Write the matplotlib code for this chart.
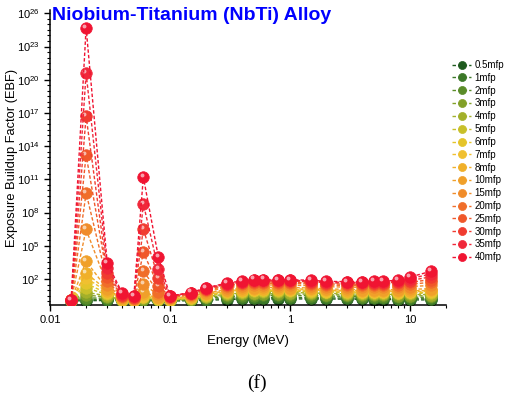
import numpy as np
import matplotlib
matplotlib.use('Agg')
import matplotlib.pyplot as plt
from matplotlib import ticker, transforms

plt.rcParams.update({'font.family': 'Liberation Sans',
                     'mathtext.fontset': 'custom',
                     'mathtext.rm': 'Liberation Sans',
                     'mathtext.it': 'Liberation Sans:italic',
                     'mathtext.bf': 'Liberation Sans:bold'})

# photon energies (MeV)
energy = [0.015, 0.02, 0.03, 0.04, 0.05, 0.06, 0.08, 0.1, 0.15, 0.2, 0.3, 0.4, 0.5,
          0.6, 0.8, 1, 1.5, 2, 3, 4, 5, 6, 8, 10, 15]

mfp_labels = ['0.5mfp', '1mfp', '2mfp', '3mfp', '4mfp', '5mfp', '6mfp', '7mfp', '8mfp',
              '10mfp', '15mfp', '20mfp', '25mfp', '30mfp', '35mfp', '40mfp']

# exposure buildup factors, one list per penetration depth
ebf_05 = [1.05, 1.1, 1.15, 1.05, 1.02, 1.1, 1.08, 1.05, 1.1, 1.2, 1.4, 1.5, 1.6, 1.6, 1.6, 1.6, 1.6, 1.6, 1.5, 1.5, 1.4, 1.4, 1.4, 1.3, 1.3]
ebf_1 = [1.08, 1.4, 1.4, 1.1, 1.05, 1.2, 1.15, 1.1, 1.2, 1.4, 1.8, 2.0, 2.1, 2.1, 2.2, 2.1, 2.1, 2.0, 1.9, 1.9, 1.8, 1.8, 1.7, 1.7, 1.6]
ebf_2 = [1.1, 2.0, 1.8, 1.15, 1.1, 1.4, 1.25, 1.15, 1.35, 1.8, 2.6, 3.0, 3.2, 3.3, 3.3, 3.2, 3.1, 2.9, 2.7, 2.6, 2.5, 2.5, 2.4, 2.3, 2.2]
ebf_3 = [1.12, 3.5, 2.4, 1.2, 1.15, 1.6, 1.35, 1.2, 1.5, 2.2, 3.4, 4.1, 4.5, 4.6, 4.6, 4.5, 4.3, 3.9, 3.6, 3.4, 3.3, 3.3, 3.2, 3.1, 3.0]
ebf_4 = [1.14, 6.3, 3.0, 1.3, 1.2, 1.9, 1.45, 1.3, 1.65, 2.6, 4.3, 5.3, 6.0, 6.1, 6.1, 6.0, 5.6, 5.0, 4.6, 4.3, 4.2, 4.1, 4.0, 4.0, 3.9]
ebf_5 = [1.15, 16, 4.0, 1.35, 1.25, 2.2, 1.55, 1.35, 1.8, 3.0, 5.3, 6.6, 7.5, 7.7, 7.7, 7.5, 7.0, 6.2, 5.6, 5.3, 5.2, 5.1, 5.0, 5.0, 5.0]
ebf_6 = [1.16, 40, 5.0, 1.4, 1.3, 2.6, 1.7, 1.4, 2.0, 3.5, 6.3, 8.0, 9.3, 9.5, 9.5, 9.2, 8.5, 7.4, 6.7, 6.3, 6.2, 6.1, 6.0, 6.1, 6.2]
ebf_7 = [1.17, 126, 7.0, 1.5, 1.35, 3.2, 1.9, 1.5, 2.2, 4.0, 7.5, 9.5, 11, 11.5, 11.5, 11, 10, 8.7, 7.9, 7.4, 7.3, 7.2, 7.2, 7.3, 7.6]
ebf_8 = [1.18, 355, 9.0, 1.6, 1.4, 4.0, 2.1, 1.6, 2.4, 4.5, 8.7, 11, 13, 13.5, 13.5, 13, 12, 10, 9.0, 8.5, 8.4, 8.4, 8.4, 8.6, 9.2]
ebf_10 = [1.19, 4000, 12.6, 1.8, 1.5, 6.3, 2.5, 1.8, 2.8, 5.5, 11, 14, 17, 17.5, 17.5, 17, 15.5, 13, 11.5, 11, 11, 11, 11, 12, 13]
ebf_15 = [1.2, 3e6, 28, 2.2, 1.7, 32, 4.0, 2.1, 3.5, 7.5, 17, 23, 28, 29, 29, 28, 25, 20.5, 18.5, 18, 18, 18, 19, 21, 26]
ebf_20 = [1.21, 6e9, 63, 2.7, 1.9, 500, 7.0, 2.4, 4.2, 9.5, 23, 32, 40, 41, 41, 40, 36, 29, 26, 26, 26, 27, 29, 34, 50]
ebf_25 = [1.22, 1.6e13, 160, 3.2, 2.1, 2.5e4, 25, 2.6, 4.8, 11.5, 29, 41, 52, 53, 53, 51, 46, 37, 34, 34, 34, 35, 40, 50, 90]
ebf_30 = [1.23, 5e16, 316, 3.8, 2.4, 3.2e6, 126, 2.8, 5.3, 13, 34, 50, 64, 65, 65, 63, 57, 45, 42, 42, 42, 44, 52, 72, 160]
ebf_35 = [1.24, 4e20, 1000, 4.5, 2.7, 6.3e8, 800, 2.9, 5.7, 14.5, 39, 58, 76, 78, 77, 75, 68, 53, 50, 50, 51, 53, 65, 105, 290]
ebf_40 = [1.25, 5e24, 2750, 5.5, 3.0, 1.6e11, 1e4, 3.0, 6.0, 16, 44, 66, 90, 90, 88, 86, 78, 61, 58, 58, 60, 62, 80, 150, 500]

series = [ebf_05, ebf_1, ebf_2, ebf_3, ebf_4, ebf_5, ebf_6, ebf_7, ebf_8,
          ebf_10, ebf_15, ebf_20, ebf_25, ebf_30, ebf_35, ebf_40]

colors = ['#1e5a1e', '#3c7828', '#5a8c28', '#82a028', '#a2b02a', '#c8c02a', '#e4c42a', '#f0c030',
          '#f0b02a', '#f0a02a', '#f08c2a', '#f06e2a', '#f0582a', '#f03c30', '#f0283a', '#f01432']

fig = plt.figure(figsize=(5.13, 4.03), dpi=100)
ax = fig.add_axes([50/513, 1-305/403, 396/513, 295/403])
ax.set_xscale('log')
ax.set_yscale('log')

# small light spot up-left of each ball
shine = transforms.offset_copy(ax.transData, fig=fig, x=-1.3, y=1.5, units='points')

for i, (lab, col, vals) in enumerate(zip(mfp_labels, colors, series)):
    ax.plot(energy, vals, ls=(0, (2.5, 1.5)), lw=1, color=col, marker='o', ms=8.3,
            mec=col, mew=0.5, label=lab, zorder=2+i)
    ax.plot(energy, vals, ls='none', marker='o', ms=2.8, mew=0, color='white', alpha=0.6,
            transform=shine, zorder=2.5+i)

ax.set_xlim(0.01, 20)
ax.set_ylim(0.45, 2e26)

ax.xaxis.set_major_locator(ticker.FixedLocator([0.01, 0.1, 1, 10]))
ax.xaxis.set_major_formatter(ticker.FuncFormatter(lambda v, p: '%g' % v))
ax.xaxis.set_minor_locator(ticker.LogLocator(subs=range(2, 10)))
ax.xaxis.set_minor_formatter(ticker.NullFormatter())
ax.yaxis.set_major_locator(ticker.FixedLocator(10.0**np.arange(2, 27, 3)))
ax.yaxis.set_major_formatter(ticker.FuncFormatter(lambda v, p: r'$10^{%d}$' % round(np.log10(v))))
ax.yaxis.set_minor_locator(ticker.FixedLocator(10.0**np.arange(-0.5, 26.6, 0.5)))
ax.yaxis.set_minor_formatter(ticker.NullFormatter())

ax.tick_params(which='major', length=4, width=1, labelsize=8, direction='out')
ax.tick_params(which='minor', length=2, width=0.8, direction='out')
for s in ['top', 'right']:
    ax.spines[s].set_visible(False)
for s in ['left', 'bottom']:
    ax.spines[s].set_linewidth(1.1)

ax.set_xlabel('Energy (MeV)', fontsize=9.5, labelpad=7)
ax.set_ylabel('Exposure Buildup Factor (EBF)', fontsize=9.3)
ax.yaxis.set_label_coords(-0.08, 0.5)

fig.text(52/513, 1-16/403, 'Niobium-Titanium (NbTi) Alloy', color='#0000ff',
         fontweight='bold', fontsize=14, va='center', ha='left')

fig.legend(loc='upper left', bbox_to_anchor=(452/513, 1-60/403), frameon=False,
           fontsize=7, labelspacing=0.29, handlelength=2.0, handletextpad=0.3,
           markerscale=0.7, borderpad=0, borderaxespad=0)

fig.text(257/513, 1-383/403, '(f)', fontsize=14, family='Liberation Serif',
         ha='center', va='center')

fig.savefig('out.png', dpi=100)
